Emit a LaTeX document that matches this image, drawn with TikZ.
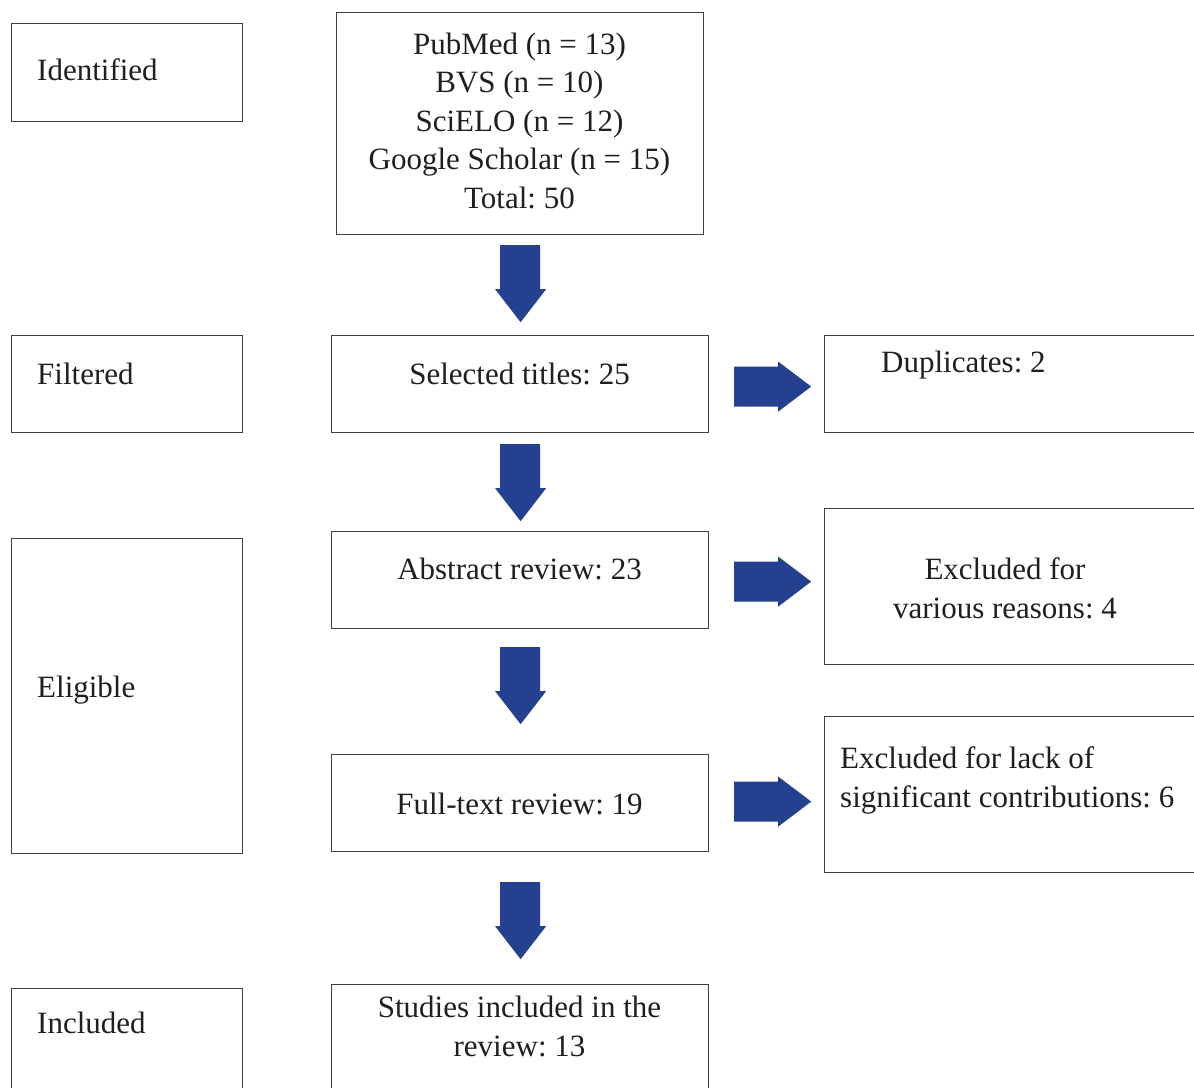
\documentclass[tikz,border=0pt]{standalone}
\usepackage{fontspec}
\setmainfont{Liberation Serif}
\usetikzlibrary{calc}
\frenchspacing
\definecolor{arrowcol}{RGB}{37,64,143}
\definecolor{linecol}{RGB}{64,64,64}
\tikzset{
  box/.style={draw=linecol, line width=1.2pt, rectangle, inner sep=0pt, anchor=north west},
  lbl/.style={inner sep=0pt, font=\fontsize{31}{38.4}\selectfont, text=black!88},
}
\begin{document}
\begin{tikzpicture}[x=1pt,y=-1pt]
\clip (0,0) rectangle (1194,1087);
\fill[white] (0,0) rectangle (1194,1087);
% left stage boxes
\node[box, minimum width=231pt, minimum height=98pt] (idf) at (11,23) {};
\node[box, minimum width=231pt, minimum height=97pt] (flt) at (11,335) {};
\node[box, minimum width=231pt, minimum height=315pt] (elg) at (11,538) {};
\node[box, minimum width=231pt, minimum height=110pt] (inc) at (11,988) {};
% middle column
\node[box, minimum width=367pt, minimum height=222pt] (src) at (336,12) {};
\node[box, minimum width=377pt, minimum height=97pt] (sel) at (331,335) {};
\node[box, minimum width=377pt, minimum height=97pt] (abs) at (331,531) {};
\node[box, minimum width=377pt, minimum height=97pt] (ful) at (331,754) {};
\node[box, minimum width=377pt, minimum height=115pt] (stu) at (331,984) {};
% right column
\node[box, minimum width=380pt, minimum height=97pt] (dup) at (824,335) {};
\node[box, minimum width=380pt, minimum height=156pt] (exv) at (824,508) {};
\node[box, minimum width=380pt, minimum height=156pt] (exl) at (824,716) {};
% labels
\node[lbl, anchor=base west] (tidf) at (37,80) {Identified};
\node[lbl, anchor=base west] (tflt) at (37,384) {Filtered};
\node[lbl, anchor=base west] (telg) at (37,697) {Eligible};
\node[lbl, anchor=base west] (tinc) at (37,1033) {Included};
\node[lbl, anchor=base, align=center] (tsrc) at (519.5,208) {PubMed (n = 13)\\BVS (n = 10)\\SciELO (n = 12)\\Google Scholar (n = 15)\\Total: 50};
\node[lbl, anchor=base] (tsel) at (519.5,384) {Selected titles: 25};
\node[lbl, anchor=base] (tabs) at (519.5,579) {Abstract review: 23};
\node[lbl, anchor=base] (tful) at (519.5,814) {Full-text review: 19};
\node[lbl, anchor=base, align=center] (tstu) at (519.5,1056) {Studies included in the\\review: 13};
\node[lbl, anchor=base west] (tdup) at (881,372) {Duplicates: 2};
\node[lbl, anchor=base, align=center] (texv) at (1005,618) {Excluded for\\various reasons: 4};
\node[lbl, anchor=base west, align=left] (texl) at (840,807) {Excluded for lack of\\significant contributions: 6};
% down block arrows
\coordinate (d1) at ($(src.south)+(0,10)$);
\coordinate (d2) at ($(sel.south)+(0,11)$);
\coordinate (d3) at ($(abs.south)+(0,18)$);
\coordinate (d4) at ($(ful.south)+(0,30)$);
\foreach \c in {d1,d2,d3,d4}{
  \fill[arrowcol] ($(\c)+(-20,0)$) -- ++(40,0) -- ++(0,44) -- ++(6,0) -- ++(-25.5,33) -- ++(-25.5,-33) -- ++(5,0) -- cycle;
}
% right block arrows
\coordinate (r1) at ($(sel.east)+(25,2.5)$);
\coordinate (r2) at ($(abs.east)+(25,1.5)$);
\coordinate (r3) at ($(ful.east)+(25,-1.5)$);
\foreach \c in {r1,r2,r3}{
  \fill[arrowcol] ($(\c)+(0,-20)$) -- ++(44,0) -- ++(0,-5) -- ++(33,25) -- ++(-33,25) -- ++(0,-5) -- ++(-44,0) -- cycle;
}
\end{tikzpicture}
\end{document}
